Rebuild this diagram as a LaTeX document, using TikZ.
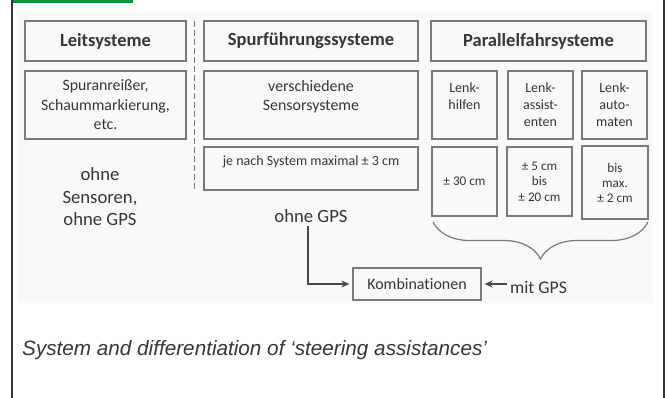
\documentclass[tikz,border=0pt]{standalone}
\usepackage{fontspec}
\setmainfont{Carlito}[Ligatures={NoCommon}]
\newfontfamily\captionfont{Liberation Sans}
\usetikzlibrary{arrows.meta, decorations.pathreplacing}

\definecolor{rahmengrau}{HTML}{7A7A7A}
\definecolor{textgrau}{HTML}{363636}
\definecolor{balkengruen}{HTML}{00963F}

\begin{document}
\begin{tikzpicture}[x=1pt, y=-1pt, >={Stealth[length=8pt, width=7pt]},
    kasten/.style={draw=rahmengrau, line width=1.3pt, text=textgrau, align=center, inner sep=2pt},
    kopf/.style={kasten, minimum height=40pt, font=\fontsize{18.5}{22}\selectfont\bfseries},
    schrift/.style={text=textgrau, align=center},
    pfeil/.style={->, draw=textgrau!90, line width=1.2pt}]
    \useasboundingbox (0, 0) rectangle (668, 398);
    \fill[gray!5] (17, 12) rectangle (653, 303);
    \fill[balkengruen] (12, 0) rectangle (133, 3.5);
    \draw[textgrau, line width=1.2pt] (12, 0) -- (12, 398);
    \draw[textgrau, line width=1.2pt] (664, 0) -- (664, 398);
    \node[kopf, minimum width=161pt] (Leitsysteme) at (105.5, 41) {Leitsysteme};
    \node[kopf, minimum width=214pt] (Spurfuehrung) at (311, 41) {Spurführungssysteme};
    \node[kopf, minimum width=215pt] (Parallelfahr) at (538.5, 41) {Parallelfahrsysteme};
    \node[kasten, minimum width=161pt, minimum height=68pt, font=\fontsize{15.8}{19.5}\selectfont] (Spuranreisser) at (105.5, 105) {Spuranreißer,\\Schaummarkierung,\\etc.};
    \node[kasten, minimum width=214pt, minimum height=68pt, font=\fontsize{15.9}{19}\selectfont] (Sensorsysteme) at (311, 105) {verschiedene\\Sensorsysteme\\\mbox{}};
    \node[kasten, minimum width=214pt, minimum height=43pt, font=\fontsize{14}{15}\selectfont] (Genauigkeit) at (311, 168.5) {je nach System maximal ± 3 cm\\\mbox{}};
    \node[kasten, minimum width=65pt, minimum height=68pt, font=\fontsize{14}{17}\selectfont] (Lenkhilfen) at (464.5, 105) {Lenk-\\hilfen\\\mbox{}};
    \node[kasten, minimum width=65pt, minimum height=68pt, font=\fontsize{14}{17}\selectfont] (Lenkassistenten) at (540.5, 105) {Lenk-\\assist-\\enten};
    \node[kasten, minimum width=65pt, minimum height=68pt, font=\fontsize{14}{17}\selectfont] (Lenkautomaten) at (614.5, 105) {Lenk-\\auto-\\maten};
    \node[kasten, minimum width=65pt, minimum height=69pt, font=\fontsize{13.2}{15.5}\selectfont] (Hilfen cm) at (464.5, 181.5) {± 30 cm};
    \node[kasten, minimum width=65pt, minimum height=69pt, font=\fontsize{13.2}{15.5}\selectfont] (Assistenten cm) at (539.5, 181.5) {± 5 cm\\bis\\± 20 cm};
    \node[kasten, minimum width=66pt, minimum height=73pt, font=\fontsize{13.2}{15}\selectfont] (Automaten cm) at (615, 182.5) {bis\\max.\\± 2 cm};
    \node[schrift, font=\fontsize{18.7}{22.5}\selectfont] (Ohne Sensoren) at (100, 197) {ohne\\Sensoren,\\ohne GPS};
    \node[schrift, font=\fontsize{18.7}{22}\selectfont] (Ohne GPS) at (311, 216) {ohne GPS};
    \node[kasten, minimum width=128pt, minimum height=32pt, font=\fontsize{16}{19}\selectfont] (Kombinationen) at (417, 284) {Kombinationen};
    \node[schrift, font=\fontsize{17.8}{21}\selectfont] (Mit GPS) at (538.5, 287) {mit GPS};
    \coordinate (Trenner oben) at (194.5, 21);
    \coordinate (Trenner unten) at (194.5, 191);
    \coordinate (Klammer links) at (433, 222);
    \coordinate (Klammer rechts) at (648, 222);
    \draw[rahmengrau, line width=1.3pt, dash pattern=on 6pt off 3pt] (Trenner oben) -- (Trenner unten);
    \draw[rahmengrau, line width=1.2pt, decorate, decoration={brace, mirror, amplitude=37pt}] (Klammer links) -- (Klammer rechts);
    \draw[pfeil, shorten >=3pt] ([xshift=-3pt]Ohne GPS.south) |- (Kombinationen.west);
    \draw[pfeil, shorten >=3pt] (Kombinationen.east -| Mit GPS.west) -- (Kombinationen.east);
    \node[anchor=west, inner sep=0pt, text=textgrau, font=\captionfont\itshape\fontsize{20.7}{24}\selectfont] (Bildunterschrift) at (22, 350) {System and differentiation of ‘steering assistances’};
\end{tikzpicture}
\end{document}
